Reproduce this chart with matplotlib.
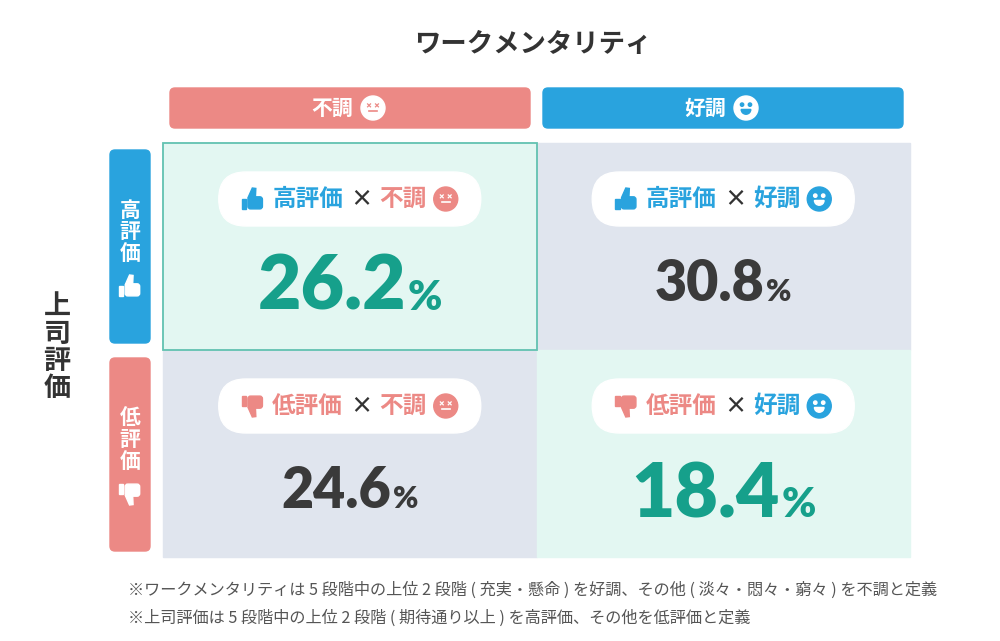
import matplotlib
matplotlib.use("Agg")
import matplotlib.pyplot as plt
from matplotlib.patches import FancyBboxPatch, Rectangle, Circle, Polygon, Wedge

plt.rcParams['font.family'] = ['Noto Sans CJK JP', 'DejaVu Sans']

# data
title = "ワークメンタリティ"
col_labels = ["不調", "好調"]
row_labels = ["高評価", "低評価"]
row_axis_label = "上司評価"
values = [[26.2, 30.8],
          [24.6, 18.4]]
highlight = [[True, False],
             [False, True]]
notes = [
    "※ワークメンタリティは 5 段階中の上位 2 段階 ( 充実・懸命 ) を好調、その他 ( 淡々・悶々・窮々 ) を不調と定義",
    "※上司評価は 5 段階中の上位 2 段階 ( 期待通り以上 ) を高評価、その他を低評価と定義",
]

PINK = "#EC8985"
BLUE = "#29A3DE"
TEAL = "#16A08B"
DARK = "#3A3A3A"
MINT = "#E3F7F2"
GRAY = "#E0E5EE"
col_colors = [PINK, BLUE]
row_colors = [BLUE, PINK]

fig = plt.figure(figsize=(10, 6.41), dpi=100)
ax = fig.add_axes([0, 0, 1, 1])
ax.set_xlim(0, 1000)
ax.set_ylim(641, 0)
ax.axis("off")

# layout (pixels)
gx0, gy0 = 163, 143
cw, ch = 373.5, 207


def face(cx, cy, r, good, fg, bg):
    ax.add_patch(Circle((cx, cy), r, color=fg, zorder=5))
    if good:
        for dx in (-0.33, 0.33):
            ax.add_patch(Circle((cx + dx * r, cy - 0.28 * r), 0.14 * r, color=bg, zorder=6))
        ax.add_patch(Wedge((cx, cy + 0.12 * r), 0.4 * r, 0, 180, color=bg, zorder=6))
    else:
        e = 0.12 * r
        for dx in (-0.33, 0.33):
            ex, ey = cx + dx * r, cy - 0.22 * r
            ax.plot([ex - e, ex + e], [ey - e, ey + e], color=bg, lw=0.9, zorder=6)
            ax.plot([ex - e, ex + e], [ey + e, ey - e], color=bg, lw=0.9, zorder=6)
        ax.plot([cx - 0.32 * r, cx + 0.32 * r], [cy + 0.28 * r, cy + 0.28 * r],
                color=bg, lw=1.2, zorder=6)


def thumb(cx, cy, s, color, down=False):
    k = -1 if down else 1
    ax.add_patch(Rectangle((cx - 0.5 * s, cy - 0.02 * s if not down else cy - 0.45 * s),
                           0.2 * s, 0.47 * s, color=color, zorder=5))
    ax.add_patch(FancyBboxPatch((cx - 0.22 * s, cy - 0.1 * s if not down else cy - 0.45 * s),
                                0.66 * s, 0.55 * s,
                                boxstyle="round,pad=0,rounding_size=%f" % (0.12 * s),
                                color=color, zorder=5))
    pts = [(-0.22, -0.05), (-0.02, -0.5), (0.14, -0.48), (0.12, -0.05)]
    ax.add_patch(Polygon([(cx + px * s, cy + k * py * s) for px, py in pts],
                         color=color, zorder=5))


# title
ax.text(533, 45, title, ha="center", va="center", fontsize=19, fontweight="bold", color="#333333")

# column headers
for j, lab in enumerate(col_labels):
    x0 = 170 + j * 373
    ax.add_patch(FancyBboxPatch((x0, 88), 360, 40, boxstyle="round,pad=0,rounding_size=5",
                                color=col_colors[j], zorder=2))
    cx = x0 + 180
    ax.text(cx - 18, 108, lab, ha="center", va="center", fontsize=15, fontweight="bold",
            color="white", zorder=3)
    face(cx + 23, 108, 12, j == 1, "white", col_colors[j])

# row headers
for i, lab in enumerate(row_labels):
    y0 = 150 + i * 208
    ax.add_patch(FancyBboxPatch((110, y0), 40, 193, boxstyle="round,pad=0,rounding_size=5",
                                color=row_colors[i], zorder=2))
    cy = y0 + 96
    for k, chv in enumerate(lab):
        ax.text(130, cy - 36 + k * 22, chv, ha="center", va="center", fontsize=15,
                fontweight="bold", color="white", zorder=3)
    thumb(130, cy + 40, 22, "white", down=(i == 1))

# left axis label
for k, chv in enumerate(row_axis_label):
    ax.text(57, 306 + k * 27.5, chv, ha="center", va="center", fontsize=19.5,
            fontweight="bold", color="#333333")

# cells
renderer = fig.canvas.get_renderer()
for i in range(2):
    for j in range(2):
        x0 = gx0 + j * cw
        y0 = gy0 + i * ch
        hl = highlight[i][j]
        ax.add_patch(Rectangle((x0, y0), cw, ch, color=MINT if hl else GRAY, zorder=1))
        cx = x0 + cw / 2

        # pill
        py = y0 + 56
        ax.add_patch(FancyBboxPatch((cx - 131, py - 27), 262, 54,
                                    boxstyle="round,pad=0,rounding_size=27",
                                    color="white", zorder=3))
        thumb(cx - 97, py, 22, row_colors[i], down=(i == 1))
        ax.text(cx - 42, py, row_labels[i], ha="center", va="center", fontsize=17,
                fontweight="bold", color=row_colors[i], zorder=5)
        ax.text(cx + 12, py, "×", ha="center", va="center", fontsize=16,
                fontweight="bold", color="#333333", zorder=5)
        ax.text(cx + 53, py, col_labels[j], ha="center", va="center", fontsize=17,
                fontweight="bold", color=col_colors[j], zorder=5)
        face(cx + 96, py, 12, j == 1, col_colors[j], "white")

        # value
        size = 54 if hl else 40
        base = y0 + (167 if hl else 158)
        col = TEAL if hl else DARK
        t1 = ax.text(0, base, f"{values[i][j]:.1f}", ha="left", va="baseline",
                     fontsize=size, fontweight="heavy", family="Lato", color=col, zorder=5)
        t2 = ax.text(0, base, "%", ha="left", va="baseline", fontsize=size * 0.55,
                     fontweight="heavy", family="Lato", color=col, zorder=5)
        w1 = t1.get_window_extent(renderer).width
        w2 = t2.get_window_extent(renderer).width
        left = cx - (w1 + w2 + 2) / 2
        t1.set_x(left)
        t2.set_x(left + w1 + 2)

# border on highlighted top-left cell
ax.add_patch(Rectangle((gx0, gy0), cw, ch, fill=False, ec="#62C2B1", lw=1.3, zorder=4))

# notes
for k, line in enumerate(notes):
    ax.text(128, 590 + k * 28, line, ha="left", va="center", fontsize=11.65, color="#555555")

fig.savefig("out.png", dpi=100)
